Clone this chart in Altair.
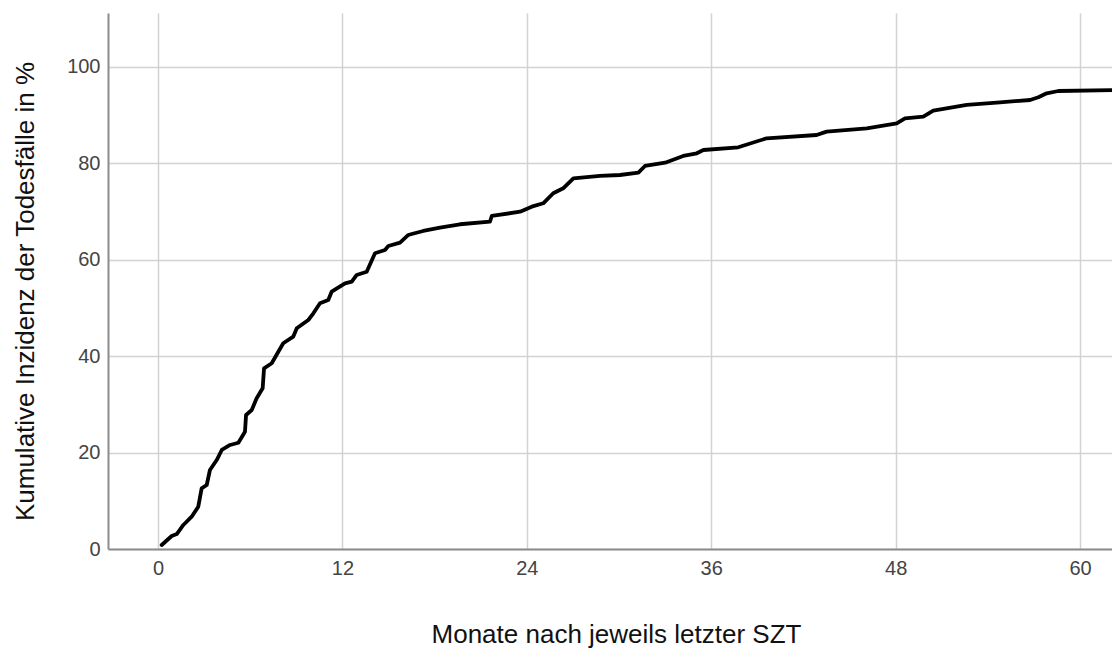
import altair as alt
import pandas as pd

# Traced curve: months after last SCT vs cumulative incidence of deaths (%)
months = [0.24, 0.89, 1.22, 1.65, 2.19, 2.62, 2.84, 3.17, 3.38, 3.82, 4.15, 4.69, 5.23,
          5.66, 5.73, 6.10, 6.42, 6.81, 6.90, 7.40, 7.83, 8.15, 8.80, 9.03, 9.78, 10.11,
          10.54, 11.08, 11.30, 12.17, 12.61, 12.93, 13.58, 14.12, 14.77, 14.99, 15.75,
          16.29, 16.51, 17.26, 18.35, 19.65, 21.60, 21.72, 23.56, 24.32, 25.07, 25.72,
          26.37, 27.03, 28.76, 30.06, 31.26, 31.69, 33.00, 34.18, 35.06, 35.49, 37.76,
          39.61, 42.86, 43.51, 46.12, 48.07, 48.61, 49.80, 50.45, 52.63, 54.79, 56.75,
          57.29, 57.83, 58.59, 62.08]
incidence = [0.83, 2.70, 3.11, 4.98, 6.70, 8.78, 12.59, 13.28, 16.39, 18.46, 20.54, 21.58,
             22.05, 24.34, 27.80, 28.84, 31.27, 33.34, 37.49, 38.53, 40.93, 42.68, 44.05,
             45.79, 47.51, 48.90, 50.98, 51.66, 53.38, 55.12, 55.46, 56.85, 57.53, 61.35,
             62.03, 62.86, 63.55, 65.15, 65.35, 65.98, 66.66, 67.37, 67.90, 69.09, 69.98,
             71.02, 71.72, 73.80, 74.83, 76.91, 77.39, 77.59, 78.07, 79.46, 80.15, 81.54,
             82.10, 82.78, 83.34, 85.21, 85.89, 86.58, 87.28, 88.32, 89.36, 89.69, 90.93,
             92.12, 92.68, 93.15, 93.71, 94.54, 95.02, 95.19]

x_ticks = [0, 12, 24, 36, 48, 60]
y_ticks = [0, 20, 40, 60, 80, 100]

df = pd.DataFrame({"m": months, "ci": incidence})

FONT = "Liberation Sans"

chart = alt.Chart(df).mark_line(color="black", strokeWidth=3.8, strokeJoin="round", strokeCap="round").encode(
    x=alt.X("m:Q",
            scale=alt.Scale(domain=[-3.254, 62.08], nice=False, zero=False),
            axis=alt.Axis(values=x_ticks, title="Monate nach jeweils letzter SZT",
                          ticks=False, labelPadding=19, labelBaseline="middle",
                          titleX=508, titleY=85, titleBaseline="middle",
                          titleAlign="center")),
    y=alt.Y("ci:Q",
            scale=alt.Scale(domain=[0, 111.2], nice=False),
            axis=alt.Axis(values=y_ticks, title="Kumulative Inzidenz der Todesfälle in %",
                          ticks=False, labelPadding=8,
                          titleAngle=-90, titleX=-83, titleY=278,
                          titleAlign="center", titleBaseline="middle")),
).properties(
    width=1004, height=536,
    autosize=alt.AutoSizeParams(type="none"),
    padding={"left": 100, "top": 5, "right": 0, "bottom": 102},
).configure_view(
    stroke=None
).configure_axis(
    labelFont=FONT, labelFontSize=20, labelColor="#444444",
    titleFont=FONT, titleFontSize=26, titleFontWeight="normal", titleColor="#111111",
    grid=True, gridColor="#d2d2d2", gridWidth=1.5,
    domainColor="#8c8c8c", domainWidth=2,
)

chart.save("out.html", embed_options={"renderer": "svg", "actions": False})
